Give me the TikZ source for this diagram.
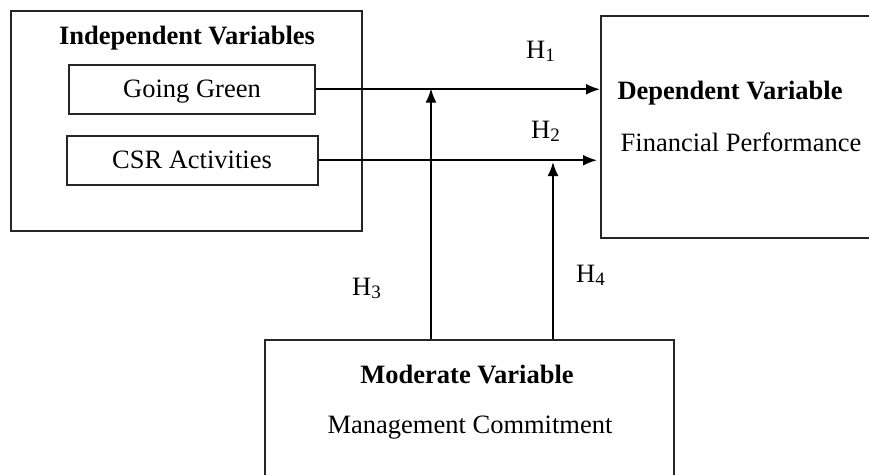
\documentclass[tikz,border=0pt]{standalone}
\usepackage{fontspec}
\setmainfont{Liberation Serif}
\usetikzlibrary{arrows.meta}
\newcommand{\hsub}[1]{{\fontsize{19}{19}\selectfont\raisebox{-3pt}{#1}}}
\begin{document}
\begin{tikzpicture}[x=1pt,y=-1pt,
  box/.style={draw=black!85, line width=1.5pt, inner sep=0pt, anchor=north west},
  arr/.style={-{Latex[length=14pt,width=11pt]}, line width=1.9pt, draw=black},
  txt/.style={font=\fontsize{26.5}{30}\selectfont, inner sep=0pt, anchor=base},
  btxt/.style={txt, font=\fontsize{26.5}{30}\selectfont\bfseries},
  hl/.style={font=\fontsize{26.5}{30}\selectfont, inner sep=0pt, anchor=base west}]
\clip (0,0) rectangle (869,474);
\fill[white] (0,0) rectangle (869,474);
% boxes
\node[box, minimum width=351pt, minimum height=220pt] (ind) at (10,10) {};
\node[box, minimum width=246pt, minimum height=49pt] (gg) at (68,64) {};
\node[box, minimum width=251pt, minimum height=49pt] (csr) at (66,135) {};
\node[box, minimum width=290pt, minimum height=222pt] (dep) at (600,15) {};
\node[box, minimum width=409pt, minimum height=170pt] (mod) at (264,339) {};
% texts
\node[btxt] (indt) at (187,44) {Independent Variables};
\node[txt] (ggt) at (192,97.5) {Going Green};
\node[txt] (csrt) at (192,168) {CSR Activities};
\node[btxt] (dept) at (730,99) {Dependent Variable};
\node[txt] (dept2) at (741,151) {Financial Performance};
\node[btxt] (modt) at (467,383) {Moderate Variable};
\node[txt] (modt2) at (470,433) {Management Commitment};
% hypothesis labels
\node[hl] (h1) at (526,58) {H\hsub{1}};
\node[hl] (h2) at (531,138) {H\hsub{2}};
\node[hl] (h3) at (352,295) {H\hsub{3}};
\node[hl] (h4) at (576,282) {H\hsub{4}};
% connectors
\coordinate (e2) at (597,161);
\coordinate (v1) at (431,88.5);
\coordinate (v2) at (553,162);
\draw[arr] (gg.east) -- (gg.east -| dep.west);
\draw[arr] (csr.east) -- (csr.east -| e2);
\draw[arr] (mod.north -| v1) -- (v1);
\draw[arr] (mod.north -| v2) -- (v2);
\end{tikzpicture}
\end{document}
